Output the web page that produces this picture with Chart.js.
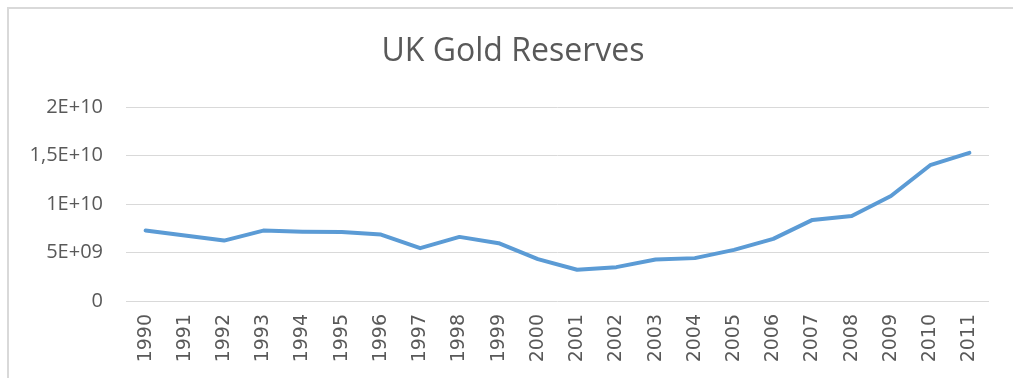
<!DOCTYPE html>
<html>
<head>
<meta charset="utf-8">
<title>UK Gold Reserves</title>
<script src="https://cdn.jsdelivr.net/npm/chart.js@4/dist/chart.umd.min.js"></script>
<style>
  html, body { margin: 0; padding: 0; background: #ffffff; }
  #wrap { position: relative; width: 1013px; height: 378px; overflow: hidden; }
  #frame {
    position: absolute; left: 7px; top: 7px; width: 2000px; height: 1000px;
    border-left: 2px solid #d9d9d9; border-top: 2px solid #d9d9d9;
  }
  #chart { position: absolute; left: 0; top: 0; }
</style>
</head>
<body>
<div id="wrap">
  <div id="frame"></div>
  <canvas id="chart" width="1013" height="378"></canvas>
</div>
<script>
// Years on the category axis
const years = ['1990','1991','1992','1993','1994','1995','1996','1997','1998','1999','2000',
               '2001','2002','2003','2004','2005','2006','2007','2008','2009','2010','2011'];

// Gold reserves value per year
const reserves = [7.26e9, 6.76e9, 6.23e9, 7.26e9, 7.15e9, 7.12e9, 6.85e9, 5.45e9, 6.61e9, 5.96e9, 4.32e9,
                  3.22e9, 3.49e9, 4.28e9, 4.42e9, 5.27e9, 6.40e9, 8.36e9, 8.77e9, 10.82e9, 14.0e9, 15.27e9];

// Value-axis tick labels, bottom to top
const yTickLabels = ['0', '5E+09', '1E+10', '1,5E+10', '2E+10'];

const chartTitle = 'UK Gold Reserves';

const grey = '#595959';
const gridGrey = '#d9d9d9';

// Centered heading drawn above the plot, centered on the whole frame
const headingPlugin = {
  id: 'heading',
  afterDraw(chart) {
    const ctx = chart.ctx;
    ctx.save();
    ctx.font = '32px "Open Sans", sans-serif';
    ctx.fillStyle = grey;
    ctx.textAlign = 'center';
    ctx.textBaseline = 'middle';
    ctx.fillText(chartTitle, 513, 52);
    ctx.restore();
  }
};

new Chart(document.getElementById('chart'), {
  type: 'line',
  data: {
    labels: years,
    datasets: [{
      label: chartTitle,
      data: reserves,
      borderColor: '#5b9bd5',
      backgroundColor: '#5b9bd5',
      borderWidth: 4,
      borderCapStyle: 'round',
      borderJoinStyle: 'round',
      pointRadius: 0,
      tension: 0,
      fill: false
    }]
  },
  plugins: [headingPlugin],
  options: {
    responsive: false,
    animation: false,
    devicePixelRatio: 1,
    layout: { padding: { left: 0, right: 24, top: 107, bottom: 0 } },
    plugins: {
      legend: { display: false },
      tooltip: { enabled: false },
      title: { display: false }
    },
    scales: {
      x: {
        offset: true,
        grid: { display: false, drawTicks: false },
        border: { display: false },
        ticks: {
          color: grey,
          minRotation: 90,
          maxRotation: 90,
          autoSkip: false,
          padding: 13,
          font: { family: '"DejaVu Sans", sans-serif', size: 19 }
        },
        afterFit: s => { s.height = 77; }
      },
      y: {
        min: 0,
        max: 2e10,
        grid: { color: gridGrey, lineWidth: 1, drawTicks: false },
        border: { display: false },
        ticks: {
          stepSize: 5e9,
          color: grey,
          padding: 23,
          font: { family: '"Open Sans", sans-serif', size: 20 },
          callback: (v, i) => yTickLabels[i]
        },
        afterFit: s => { s.width = 126; }
      }
    }
  }
});
</script>
</body>
</html>
